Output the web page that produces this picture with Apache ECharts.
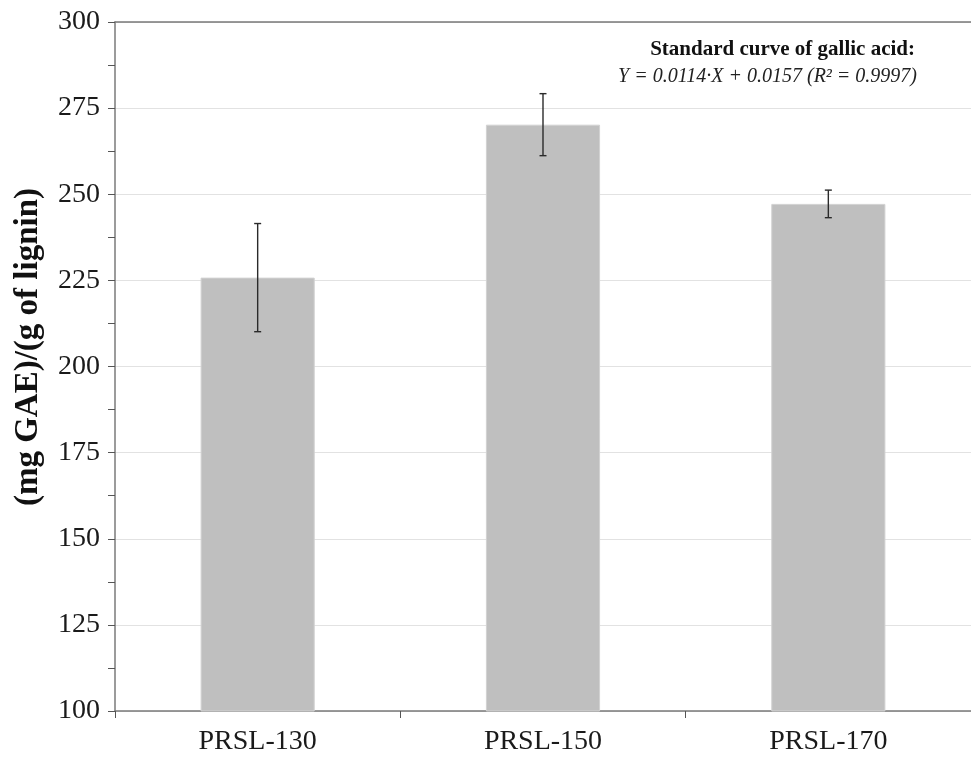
<!DOCTYPE html>
<html>
<head>
<meta charset="utf-8">
<script src="https://cdn.jsdelivr.net/npm/echarts@6/dist/echarts.min.js"></script>
<style>
html,body{margin:0;padding:0;background:#fff;}
#chart{width:971px;height:758px;}
</style>
</head>
<body>
<div id="chart"></div>
<script>
const categories = ['PRSL-130', 'PRSL-150', 'PRSL-170'];
const means = [225.8, 270.2, 247.2];
const errors = [15.7, 9.0, 4.0];
const yTicks = { min: 100, max: 300, interval: 25 };
const yTitle = '(mg GAE)/(g of lignin)';
const noteTitle = 'Standard curve of gallic acid:';
const noteEq = 'Y = 0.0114·X + 0.0157 (R² = 0.9997)';

const FONT = 'Liberation Serif';
const chart = echarts.init(document.getElementById('chart'), null, { renderer: 'canvas' });

const errData = means.map((m, i) => [i, m - errors[i], m + errors[i]]);

chart.setOption({
  backgroundColor: '#ffffff',
  animation: false,
  grid: { left: 115, right: -2, top: 22, bottom: 47, containLabel: false },
  xAxis: [{
    type: 'category',
    data: categories,
    axisLine: { show: true, lineStyle: { color: '#7a7a7a', width: 1.5 } },
    axisTick: { show: true, length: 7, inside: false, alignWithLabel: false, lineStyle: { color: '#555', width: 1 } },
    axisLabel: { fontFamily: FONT, fontSize: 28, color: '#1a1a1a', margin: 17 },
    splitLine: { show: false }
  }, {
    type: 'category',
    position: 'top',
    data: categories,
    axisLine: { show: true, lineStyle: { color: '#7a7a7a', width: 1.5 } },
    axisTick: { show: false },
    axisLabel: { show: false },
    splitLine: { show: false }
  }],
  yAxis: {
    type: 'value',
    min: yTicks.min,
    max: yTicks.max,
    interval: yTicks.interval,
    axisLine: { show: true, lineStyle: { color: '#7a7a7a', width: 1.5 } },
    axisTick: { show: true, length: 7, lineStyle: { color: '#555', width: 1 } },
    minorTick: { show: true, splitNumber: 2, length: 7, lineStyle: { color: '#555', width: 1 } },
    axisLabel: { fontFamily: FONT, fontSize: 28, color: '#1a1a1a', margin: 15 },
    splitLine: { show: true, lineStyle: { color: '#e2e2e2', width: 1.2 } }
  },
  graphic: [
    {
      type: 'text',
      x: 28, y: 347,
      rotation: Math.PI / 2,
      style: {
        text: yTitle,
        font: 'bold 33px "Liberation Serif"',
        fill: '#111',
        align: 'center',
        verticalAlign: 'middle'
      }
    },
    {
      type: 'text',
      x: 915, y: 50,
      style: {
        text: noteTitle,
        font: 'bold 21px "Liberation Serif"',
        fill: '#111',
        align: 'right',
        verticalAlign: 'middle'
      }
    },
    {
      type: 'text',
      x: 917, y: 77,
      style: {
        text: noteEq,
        font: 'italic 20px "Liberation Serif"',
        fill: '#222',
        align: 'right',
        verticalAlign: 'middle'
      }
    }
  ],
  series: [
    {
      type: 'bar',
      data: means,
      barWidth: '40%',
      itemStyle: { color: '#bfbfbf', borderColor: '#d2d2d2', borderWidth: 1 },
      z: 2
    },
    {
      type: 'custom',
      data: errData,
      z: 5,
      renderItem: function (params, api) {
        const x = api.value(0);
        const lo = api.coord([x, api.value(1)]);
        const hi = api.coord([x, api.value(2)]);
        const cap = 3.5;
        const style = { stroke: '#2a2a2a', lineWidth: 1.4 };
        return {
          type: 'group',
          children: [
            { type: 'line', shape: { x1: hi[0], y1: hi[1], x2: lo[0], y2: lo[1] }, style: style },
            { type: 'line', shape: { x1: hi[0] - cap, y1: hi[1], x2: hi[0] + cap, y2: hi[1] }, style: style },
            { type: 'line', shape: { x1: lo[0] - cap, y1: lo[1], x2: lo[0] + cap, y2: lo[1] }, style: style }
          ]
        };
      }
    }
  ]
});
</script>
</body>
</html>
